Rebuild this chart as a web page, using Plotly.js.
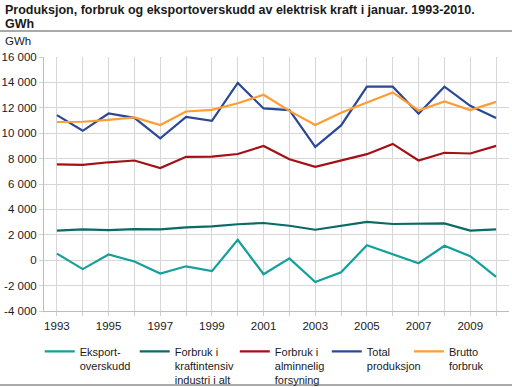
<!DOCTYPE html>
<html>
<head>
<meta charset="utf-8">
<script src="https://cdn.plot.ly/plotly-3.0.1.min.js"></script>
<style>
html,body{margin:0;padding:0;background:#fff;}
#chart{width:512px;height:387px;}
</style>
</head>
<body>
<div id="chart"></div>
<script>
var years = [1993,1994,1995,1996,1997,1998,1999,2000,2001,2002,2003,2004,2005,2006,2007,2008,2009,2010];
var xTickText = ['1993','','1995','','1997','','1999','','2001','','2003','','2005','','2007','','2009',''];
var yTickVals = [-4000,-2000,0,2000,4000,6000,8000,10000,12000,14000,16000];
var yTickText = ['-4 000','-2 000','0','2 000','4 000','6 000','8 000','10 000','12 000','14 000','16 000'];

var titleLine1 = 'Produksjon, forbruk og eksportoverskudd av elektrisk kraft i januar. 1993-2010.';
var titleLine2 = 'GWh';
var unitLabel = 'GWh';

var eksportoverskudd = [520,-700,450,-100,-1050,-480,-860,1600,-1100,140,-1720,-950,1180,450,-240,1130,310,-1320];
var kraftintensiv = [2330,2430,2370,2450,2420,2590,2660,2830,2930,2710,2400,2710,3010,2850,2850,2900,2330,2430];
var alminnelig = [7550,7500,7710,7850,7250,8140,8160,8360,9000,7950,7350,7850,8350,9160,7850,8460,8400,9000];
var totalProduksjon = [11420,10190,11550,11210,9590,11290,10980,13960,11950,11820,8920,10610,13660,13660,11530,13660,12160,11190];
var bruttoForbruk = [10880,10900,11050,11240,10640,11710,11840,12360,13030,11760,10640,11610,12420,13210,11790,12500,11820,12470];

var seriesNames = ['Eksport-<br>overskudd','Forbruk i<br>kraftintensiv<br>industri i alt','Forbruk i<br>alminnelig<br>forsyning','Total<br>produksjon','Brutto<br>forbruk'];
var seriesData = [eksportoverskudd, kraftintensiv, alminnelig, totalProduksjon, bruttoForbruk];
var seriesColors = ['#13a09a','#0a6a65','#a50f15','#2a4896','#ff9d33'];
var legendIds = ['legend','legend2','legend3','legend4','legend5'];
var legendX = [-0.0092, 0.1951, 0.4103, 0.6082, 0.7847];

var traces = seriesData.map(function(d, i){
  return {
    x: years, y: d, type: 'scatter', mode: 'lines',
    name: seriesNames[i],
    legend: legendIds[i],
    line: {color: seriesColors[i], width: 2.2},
    hoverinfo: 'skip'
  };
});

var fam = 'Liberation Sans, Arial, sans-serif';

var layout = {
  width: 512, height: 387,
  margin: {l: 44, r: 3, t: 57, b: 76, pad: 0, autoexpand: false},
  paper_bgcolor: '#fff', plot_bgcolor: '#fff',
  font: {family: fam, size: 11.5, color: '#1a1a1a'},
  showlegend: true,
  xaxis: {
    range: [1992.5, 2010.5],
    tickmode: 'array', tickvals: years, ticktext: xTickText,
    showgrid: true, gridcolor: '#d6d6d6', gridwidth: 1,
    showline: true, linecolor: '#bdbdbd', linewidth: 1,
    ticks: 'outside', ticklen: 4, tickcolor: '#d0d0d0', tickwidth: 1,
    zeroline: false, fixedrange: true, automargin: false,
    tickfont: {size: 11.5}
  },
  yaxis: {
    range: [-4000, 16000],
    tickmode: 'array', tickvals: yTickVals, ticktext: yTickText,
    showgrid: true, gridcolor: '#d6d6d6', gridwidth: 1,
    showline: true, linecolor: '#bdbdbd', linewidth: 1,
    ticks: 'outside', ticklen: 4, tickcolor: '#d0d0d0', tickwidth: 1,
    zeroline: false, fixedrange: true, automargin: false,
    tickfont: {size: 11.5}
  },
  annotations: [
    {text: '<b>' + titleLine1 + '</b>', xref: 'paper', yref: 'paper', x: -0.0882, y: 1.187,
     xanchor: 'left', yanchor: 'middle', showarrow: false, font: {size: 12.5, color: '#1a1a1a'}},
    {text: '<b>' + titleLine2 + '</b>', xref: 'paper', yref: 'paper', x: -0.0882, y: 1.128,
     xanchor: 'left', yanchor: 'middle', showarrow: false, font: {size: 12.5, color: '#1a1a1a'}},
    {text: unitLabel, xref: 'paper', yref: 'paper', x: -0.088, y: 1.063,
     xanchor: 'left', yanchor: 'middle', showarrow: false, font: {size: 11.5}}
  ],
  shapes: [
    {type: 'line', xref: 'paper', yref: 'paper', x0: -0.1, x1: 1.01, y0: 1.1024, y1: 1.1024, line: {color: '#8c8c8c', width: 1.5}},
    {type: 'line', xref: 'paper', yref: 'paper', x0: -0.1, x1: 1.01, y0: -0.291, y1: -0.291, line: {color: '#8c8c8c', width: 1.5}}
  ]
};

legendIds.forEach(function(id, i){
  layout[id] = {
    orientation: 'v', x: legendX[i], xanchor: 'left', y: -0.105, yanchor: 'top',
    valign: 'top', font: {size: 11}, itemwidth: 30,
    bgcolor: 'rgba(0,0,0,0)'
  };
});

Plotly.newPlot('chart', traces, layout, {displayModeBar: false, staticPlot: true});
</script>
</body>
</html>
